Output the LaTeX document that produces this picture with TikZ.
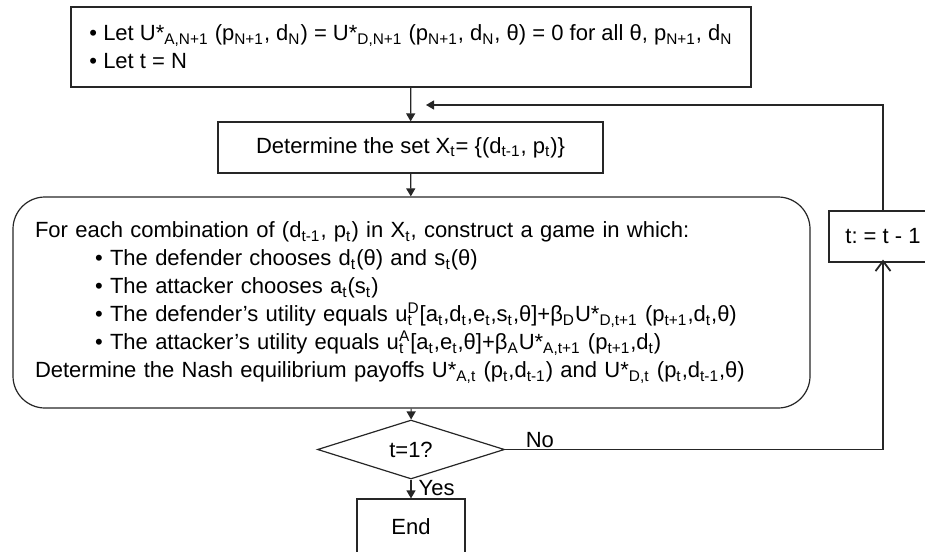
\documentclass[tikz,border=0pt]{standalone}
\usepackage{fontspec}
\setmainfont{Liberation Sans}
\usetikzlibrary{arrows.meta, positioning, shapes.geometric}
\newcommand{\subs}[1]{\textsubscript{#1}}
\newcommand{\supsub}[2]{\rlap{\textsubscript{#2}}\textsuperscript{#1}}

\begin{document}
\begin{tikzpicture}[x=0.5pt, y=-0.5pt, >={Triangle[length=4pt, width=4.5pt]},
            line width=0.6pt, draw=black!85,
            every node/.style={font=\fontsize{11}{14}\selectfont\frenchspacing},
            box/.style={draw=black!85, rectangle, inner sep=0pt, align=center},
            lbl/.style={inner sep=0.5pt}]
            \useasboundingbox (0,0) rectangle (925,551);

            \node[box, minimum width=340pt, minimum height=40pt, align=left] (init) at (411,47)
                {\textbullet{} Let U*\subs{A,N+1} (p\subs{N+1}, d\subs{N}) = U*\subs{D,N+1} (p\subs{N+1}, d\subs{N}, θ) = 0 for all θ, p\subs{N+1}, d\subs{N}\\
                 \textbullet{} Let t = N};
            \node[box, minimum width=192.5pt, minimum height=25.5pt] (setX) at (410.5,147.5)
                {Determine the set X\subs{t}= \{(d\subs{t-1}, p\subs{t})\}};
            \node[box, rounded corners=16pt, minimum width=398.5pt, minimum height=105.5pt, text width=376.5pt, align=left] (game) at (411.5,302.5)
                {For each combination of (d\subs{t-1}, p\subs{t}) in X\subs{t}, construct a game in which:\\
                 \hspace*{30pt}\textbullet{} The defender chooses d\subs{t}(θ) and s\subs{t}(θ)\\
                 \hspace*{30pt}\textbullet{} The attacker chooses a\subs{t}(s\subs{t})\\
                 \hspace*{30pt}\textbullet{} The defender’s utility equals u\supsub{D}{t}[a\subs{t},d\subs{t},e\subs{t},s\subs{t},θ]+β\subs{D}U*\subs{D,t+1} (p\subs{t+1},d\subs{t},θ)\\
                 \hspace*{30pt}\textbullet{} The attacker’s utility equals u\supsub{A}{t}[a\subs{t},e\subs{t},θ]+β\subs{A}U*\subs{A,t+1} (p\subs{t+1},d\subs{t})\\
                 Determine the Nash equilibrium payoffs U*\subs{A,t} (p\subs{t},d\subs{t-1}) and U*\subs{D,t} (p\subs{t},d\subs{t-1},θ)};
            \node[box, shape=diamond, minimum width=93.5pt, minimum height=19.5pt] (check) at (411,449.5) {t=1?};
            \node[box, minimum width=54pt, minimum height=28pt] (stop) at (411,527) {End};
            \node[box, minimum width=54pt, minimum height=25.5pt] (dec) at (883,236.5) {t: = t - 1};
            \coordinate (back) at (426,105);

            \draw[->] (init) -- (setX);
            \draw[->] (setX) -- (game);
            \draw[->] (game) -- (check);
            \draw[->] (check) -- node[lbl, right=3pt, pos=0.45] {Yes} (stop);
            \draw[-{Straight Barb[length=5pt, width=7.5pt, line width=0.9pt]}, shorten >=-1.5pt] (check.east) -| node[lbl, above, pos=0.046] {No} (dec.south);
            \draw[->] (dec.north) |- (back);
        \end{tikzpicture}
\end{document}
